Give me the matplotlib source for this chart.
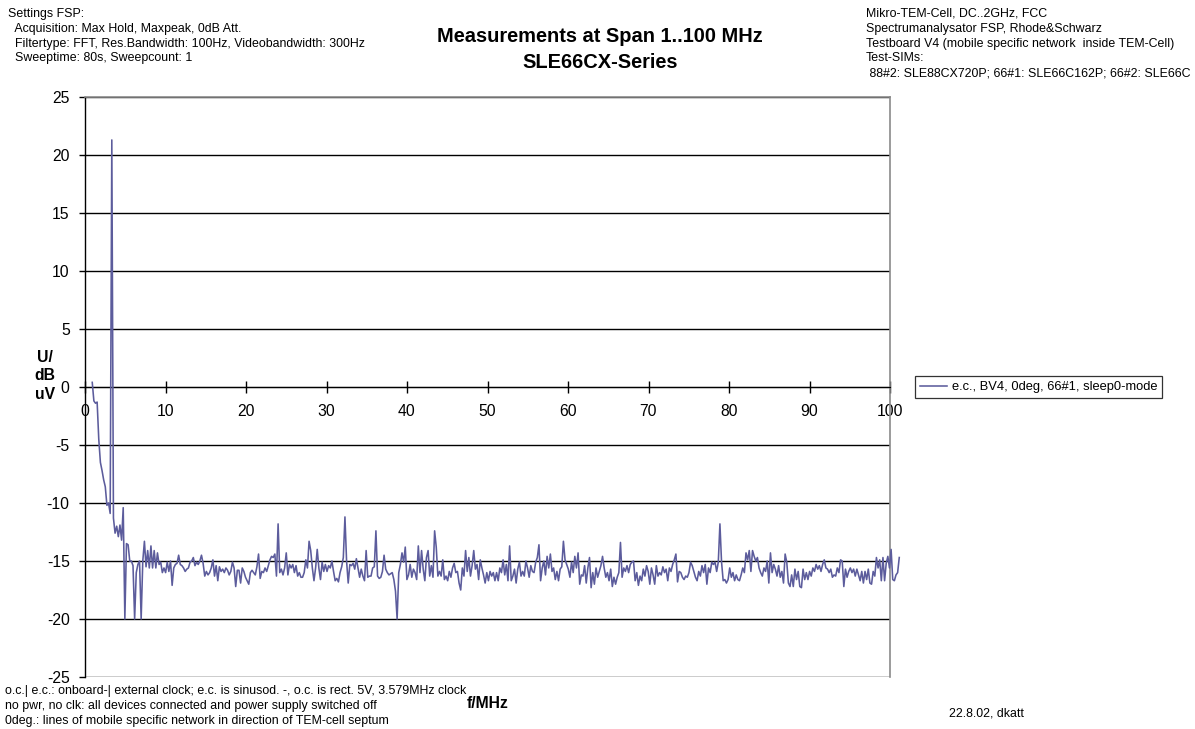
import matplotlib
matplotlib.use("Agg")
import matplotlib.pyplot as plt
import numpy as np

plt.rcParams['font.family'] = ['Liberation Sans', 'DejaVu Sans']
plt.rcParams['axes.unicode_minus'] = False

# ---- measured spectrum (dBuV), one value per sweep point from ~0.9 to ~101.1 MHz ----
level = [
    0.4, -1.2, -1.4, -1.3, -4.5, -6.5, -7.2, -8.0, -8.6, -10.2, -10.0, -10.9, 21.3, -11.3,
    -12.6, -12.0, -12.9, -11.9, -13.2,
    -10.4, -20.0, -13.5, -13.6, -15.0, -15.0, -15.4, -20.0, -16.0, -15.3, -15.0, -20.0, -15.0,
    -13.3, -15.5, -14.1, -15.6, -13.7, -15.6, -14.1, -15.6, -14.3, -15.3, -15.1, -16.0, -15.6,
    -16.0, -15.1, -15.9, -15.0, -17.1, -15.6, -15.3, -15.2, -14.5, -15.3, -15.4, -15.6, -15.9,
    -15.7, -15.6, -15.1, -15.0, -14.7, -15.4, -15.1, -15.3, -15.0, -14.5, -15.2, -16.3, -15.9,
    -16.2, -16.0, -15.6, -14.9, -16.3, -15.4, -16.7, -15.5, -15.9, -15.7, -16.0, -15.6, -15.8,
    -16.2, -15.9, -15.1, -15.6, -17.2, -15.8, -15.8, -16.9, -15.6, -15.9, -16.4, -16.7, -17.0,
    -16.0, -15.8, -16.0, -16.2, -15.5, -14.4, -16.5, -15.9, -16.0, -15.6, -15.9, -15.4, -14.9,
    -14.6, -14.7, -14.4, -16.3, -11.8, -16.0, -15.7, -16.2, -15.6, -14.3, -16.2, -15.3, -15.6,
    -15.3, -16.0, -15.4, -16.3, -16.0, -16.4, -16.4, -16.0, -14.9, -15.6, -13.3, -14.1, -15.6,
    -16.7, -15.6, -14.0, -15.6, -16.6, -15.1, -15.9, -15.3, -15.9, -15.4, -15.6, -15.0, -15.9,
    -16.7, -16.5, -16.8, -16.0, -15.5, -14.7, -11.2, -15.0, -16.9, -15.3, -15.4, -15.2, -15.7,
    -14.8, -15.6, -16.4, -15.7, -16.3, -16.7, -14.1, -16.4, -16.3, -16.3, -15.6, -15.5, -12.4,
    -16.3, -16.5, -16.4, -15.9, -14.5, -15.7, -16.0, -16.2, -16.1, -16.0, -16.6, -17.6, -20.0,
    -16.0, -15.3, -14.3, -15.1, -13.8, -16.6, -16.2, -15.3, -16.4, -15.7, -16.0, -16.6, -13.7,
    -16.0, -14.1, -15.7, -16.7, -14.7, -14.1, -16.3, -15.4, -16.4, -12.4, -13.8, -16.3, -15.9,
    -16.3, -14.9, -16.6, -16.3, -16.7, -15.9, -16.4, -15.6, -15.2, -16.0, -15.9, -16.9, -17.5,
    -15.6, -16.3, -14.1, -15.9, -14.7, -16.3, -15.4, -14.1, -15.7, -15.3, -16.6, -14.9, -15.6,
    -16.2, -16.9, -16.0, -16.7, -15.9, -16.3, -16.0, -16.7, -16.0, -16.7, -15.6, -16.0, -14.9,
    -16.2, -15.3, -16.7, -13.7, -16.7, -16.3, -15.7, -16.9, -15.7, -15.1, -16.3, -15.9, -16.3,
    -15.0, -15.6, -16.4, -15.4, -15.9, -16.0, -15.1, -14.7, -13.6, -16.7, -15.6, -15.0, -16.2,
    -14.6, -15.6, -14.4, -15.9, -15.6, -16.6, -15.9, -16.7, -15.7, -15.5, -13.3, -14.9, -15.3,
    -15.7, -16.4, -15.1, -16.0, -14.6, -15.6, -14.3, -17.0, -16.2, -16.3, -15.4, -16.9, -15.6,
    -14.7, -17.3, -16.0, -17.0, -15.6, -16.4, -15.9, -15.4, -14.6, -15.6, -16.4, -16.0, -16.7,
    -15.7, -17.2, -16.4, -17.0, -16.4, -16.0, -13.4, -16.4, -15.6, -15.9, -15.4, -16.0, -15.3,
    -15.1, -15.0, -16.7, -16.0, -17.1, -16.3, -16.7, -15.7, -16.3, -15.4, -15.9, -17.0, -15.6,
    -16.2, -17.0, -15.4, -16.3, -16.0, -16.2, -15.5, -16.0, -15.7, -16.7, -15.6, -15.9,
    -15.3, -14.9, -14.4, -16.8, -15.9, -16.0, -16.4, -16.6, -16.3, -16.4, -16.0, -15.1,
    -15.4, -15.9, -16.4, -16.7, -15.9, -16.3, -15.4, -16.0, -15.3, -17.0, -15.6, -16.0, -15.1,
    -15.3, -15.1, -15.9, -15.1, -11.8, -15.1, -16.7, -16.6, -16.9, -16.6, -15.6, -16.4,
    -16.0, -16.7, -16.2, -16.6, -16.7, -16.2, -15.6, -16.0, -14.3, -14.9, -14.1, -15.9, -14.1,
    -14.6, -15.0, -14.7, -15.6, -16.0, -16.3, -15.6, -15.9, -15.0, -16.9, -14.3, -16.0, -15.3,
    -15.7, -16.3, -15.4, -16.4, -15.9, -16.9, -14.4, -15.1, -16.9, -17.2, -16.2, -17.2, -15.7,
    -16.6, -15.9, -17.2, -17.3, -15.7, -16.6, -16.0, -16.6, -15.9, -16.3, -15.6, -15.9, -15.3,
    -15.7, -15.4, -15.9, -15.3, -14.9, -15.6, -15.7, -16.0, -15.7, -16.4, -16.2, -16.3, -15.6,
    -16.0, -14.9, -15.0, -17.2, -15.7, -16.4, -15.9, -15.6, -16.0, -15.7, -16.3, -15.7, -16.2,
    -16.7, -15.9, -16.9, -15.9, -16.6, -15.7, -16.9, -17.0, -15.9, -16.3, -14.7, -15.6, -14.9,
    -16.7, -14.7, -16.7, -15.2, -14.6, -15.6, -14.0, -16.6, -16.7, -16.2, -16.0, -14.7,
]
freq_start, freq_stop = 0.9, 101.15
freq = np.linspace(freq_start, freq_stop, len(level))

x_ticks = [0, 10, 20, 30, 40, 50, 60, 70, 80, 90, 100]
y_ticks = [-25, -20, -15, -10, -5, 0, 5, 10, 15, 20, 25]
series_label = "e.c., BV4, 0deg, 66#1, sleep0-mode"

title_lines = ["Measurements at Span 1..100 MHz", "SLE66CX-Series"]
settings_lines = [
    "Settings FSP:",
    "  Acquisition: Max Hold, Maxpeak, 0dB Att.",
    "  Filtertype: FFT, Res.Bandwidth: 100Hz, Videobandwidth: 300Hz",
    "  Sweeptime: 80s, Sweepcount: 1",
]
setup_lines = [
    "Mikro-TEM-Cell, DC..2GHz, FCC",
    "Spectrumanalysator FSP, Rhode&Schwarz",
    "Testboard V4 (mobile specific network  inside TEM-Cell)",
    "Test-SIMs:",
    " 88#2: SLE88CX720P; 66#1: SLE66C162P; 66#2: SLE66C",
]
note_lines = [
    "o.c.| e.c.: onboard-| external clock; e.c. is sinusod. -, o.c. is rect. 5V, 3.579MHz clock",
    "no pwr, no clk: all devices connected and power supply switched off",
    "0deg.: lines of mobile specific network in direction of TEM-cell septum",
]
signature = "22.8.02, dkatt"

W, H = 1195, 729
fig = plt.figure(figsize=(W / 100, H / 100), dpi=100)
fig.patch.set_facecolor("white")


def fx(px):
    return px / W


def fy(py):
    return 1 - py / H


ax = fig.add_axes([fx(85), fy(677), 805 / W, 580 / H])

for yv in y_ticks:
    ax.axhline(yv, color="black", lw=1.0, zorder=1)

ax.plot(freq, level, color="#5c5c9c", lw=1.15, clip_on=False, zorder=3, label=series_label)

ax.set_xlim(0, 100)
ax.set_ylim(-25, 25)
ax.set_xticks(x_ticks)
ax.set_yticks(y_ticks)

ax.spines["bottom"].set_position(("data", 0))
ax.spines["bottom"].set_color("black")
ax.spines["left"].set_color("black")
ax.spines["left"].set_linewidth(1.0)
for side in ("top", "right"):
    ax.spines[side].set_color("#8a8a8a")
    ax.spines[side].set_linewidth(1.2)

ax.tick_params(axis="x", direction="inout", length=8, width=1, labelsize=11.3, pad=8)
ax.tick_params(axis="y", direction="out", length=4, width=1, labelsize=11.3, pad=7)

leg = ax.legend(loc="center left", bbox_to_anchor=(fx(915), fy(387)),
                bbox_transform=fig.transFigure, frameon=True, fancybox=False,
                edgecolor="black", fontsize=9.3, handlelength=2.1, handletextpad=0.35,
                borderpad=0.4, borderaxespad=0)
leg.get_frame().set_linewidth(0.9)

fig.text(fx(600), fy(37), title_lines[0], ha="center", va="center", fontsize=14.4, fontweight="bold")
fig.text(fx(600), fy(62), title_lines[1], ha="center", va="center", fontsize=14.4, fontweight="bold")

for i, line in enumerate(settings_lines):
    fig.text(fx(8), fy(14 + 14.8 * i), line, ha="left", va="center", fontsize=8.9)

for i, line in enumerate(setup_lines):
    fig.text(fx(866), fy(14 + 14.8 * i), line, ha="left", va="center", fontsize=8.9)

for i, line in enumerate(note_lines):
    fig.text(fx(5), fy(691 + 15 * i), line, ha="left", va="center", fontsize=8.9)

fig.text(fx(949), fy(714), signature, ha="left", va="center", fontsize=8.9)

fig.text(fx(45), fy(376), "U/\ndB\nuV", ha="center", va="center", fontsize=11.3,
         fontweight="bold", linespacing=1.3)
fig.text(fx(488), fy(703), "f/MHz", ha="center", va="center", fontsize=11.3, fontweight="bold")

fig.savefig("out.png", dpi=100, facecolor="white")
